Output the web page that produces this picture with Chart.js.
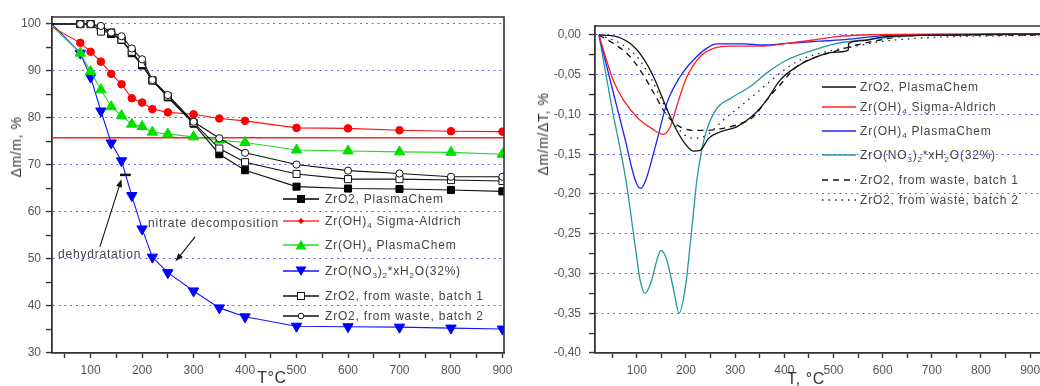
<!DOCTYPE html>
<html>
<head>
<meta charset="utf-8">
<script src="https://cdn.jsdelivr.net/npm/chart.js@4.4.1/dist/chart.umd.min.js"></script>
<style>
  body { margin: 0; width: 1040px; height: 386px; overflow: hidden; background: #fff; position: relative;
         font-family: "Liberation Sans", Arial, sans-serif; color: #444; }
  canvas { position: absolute; top: 0; }
  #tga { left: 0; }
  #dtg { left: 520px; }
  .txt { position: absolute; font-size: 12px; letter-spacing: 0.8px; white-space: nowrap; color: #444; line-height: 14px; }
  .txt sub { font-size: 8px; vertical-align: -3px; line-height: 0; }
  .leg { position: absolute; display: flex; align-items: center; height: 14px; }
  .leg svg { display: block; }
  .title { position: absolute; white-space: nowrap; color: #333; transform: translate(-50%, -50%); letter-spacing: 0.6px; }
  .rot { transform: translate(-50%, -50%) rotate(-90deg); }
</style>
</head>
<body>
<canvas id="tga" width="520" height="386"></canvas>
<canvas id="dtg" width="520" height="386"></canvas>
<div id="overlay"></div>
<script>
// ---- TGA (left): mass loss, %, read at the marker temperatures ----
const tgaT = [25, 80, 100, 120, 140, 160, 180, 200, 220, 250, 300, 350, 400, 500, 600, 700, 800, 900];
const tgaZrO2Plasma = [100, 100, 100, 99.2, 97.9, 96.6, 93.8, 91.2, 88.0, 84.4, 78.8, 72.3, 68.9, 65.4, 65.0, 64.9, 64.7, 64.4];
const tgaZrOHSigma = [99.4, 96.0, 94.1, 92.0, 89.4, 87.2, 84.2, 83.3, 81.9, 81.2, 80.8, 79.9, 79.4, 77.9, 77.8, 77.4, 77.2, 77.1];
const tgaZrOHPlasma = [99.6, 93.8, 89.9, 86.0, 82.4, 80.5, 78.7, 78.2, 77.0, 76.6, 76.0, 75.3, 74.8, 73.2, 73.0, 72.8, 72.7, 72.3];
const tgaNitrate = [100, 93.8, 88.7, 81.5, 74.7, 70.9, 63.5, 56.4, 50.4, 47.1, 43.2, 39.6, 37.7, 35.7, 35.6, 35.5, 35.3, 35.1];
const tgaWaste1 = [100, 100, 100, 98.4, 98.2, 96.7, 94.1, 91.5, 88.0, 84.6, 79.0, 73.5, 70.6, 68.1, 67.0, 67.0, 66.8, 66.6];
const tgaWaste2 = [100, 100, 100, 99.6, 98.2, 97.4, 94.8, 92.5, 88.1, 84.9, 79.2, 75.7, 72.6, 70.1, 68.8, 68.2, 67.5, 67.5];
const tgaRefLevel = 75.8;
const tgaXTicks = [50, 100, 150, 200, 250, 300, 350, 400, 450, 500, 550, 600, 650, 700, 750, 800, 850, 900];
const tgaYTicks = [30, 35, 40, 45, 50, 55, 60, 65, 70, 75, 80, 85, 90, 95, 100];

// ---- DTG (right): each curve traced at its own temperatures ----
const dtgZrO2PlasmaT = [23, 52, 86, 113, 134, 154, 174, 195, 215, 229, 246, 269, 303, 337, 364, 391, 425, 459, 500, 530, 531, 561, 595, 650, 750, 850, 920];
const dtgZrO2PlasmaV = [0, -0.001, -0.0105, -0.029, -0.0525, -0.082, -0.111, -0.134, -0.146, -0.145, -0.130, -0.122, -0.1155, -0.101, -0.082, -0.057, -0.040, -0.029, -0.0218, -0.019, -0.0105, -0.0071, -0.003, -0.001, 0, 0.001, 0.001];
const dtgZrOHSigmaT = [23, 52, 73, 103, 130, 154, 168, 185, 202, 229, 256, 290, 357, 405, 459, 507, 560, 700, 920];
const dtgZrOHSigmaV = [0, -0.057, -0.082, -0.105, -0.1175, -0.125, -0.1155, -0.082, -0.0525, -0.027, -0.0168, -0.0139, -0.0139, -0.0105, -0.0063, -0.002, 0, 0.001, 0.001];
const dtgZrOHPlasmaT = [23, 52, 75, 97, 108, 118, 140, 161, 188, 215, 242, 263, 317, 357, 405, 459, 527, 581, 620, 920];
const dtgZrOHPlasmaV = [0, -0.072, -0.128, -0.183, -0.193, -0.183, -0.135, -0.086, -0.0525, -0.0315, -0.0168, -0.0113, -0.0113, -0.0126, -0.0105, -0.0084, -0.0054, -0.002, 0, 0.001];
const dtgNitrateT = [23, 49, 78, 97, 107, 117, 130, 141, 149, 161, 175, 186, 200, 208, 215, 222, 232, 242, 263, 290, 330, 364, 405, 459, 507, 561, 629, 700, 920];
const dtgNitrateV = [0, -0.090, -0.183, -0.267, -0.309, -0.325, -0.309, -0.283, -0.271, -0.283, -0.321, -0.350, -0.312, -0.267, -0.225, -0.183, -0.145, -0.120, -0.092, -0.080, -0.065, -0.048, -0.0315, -0.019, -0.0105, -0.0063, -0.002, 0, 0.001];
const dtgWaste1T = [23, 52, 86, 113, 137, 161, 188, 215, 242, 269, 303, 337, 364, 391, 425, 459, 500, 547, 595, 636, 700, 920];
const dtgWaste1V = [0, -0.0105, -0.027, -0.050, -0.0756, -0.101, -0.1155, -0.120, -0.120, -0.118, -0.113, -0.103, -0.082, -0.063, -0.040, -0.029, -0.021, -0.0126, -0.0063, -0.002, 0, 0];
const dtgWaste2T = [23, 66, 100, 127, 154, 181, 215, 242, 276, 310, 351, 391, 432, 486, 540, 595, 650, 750, 850, 920];
const dtgWaste2V = [0, -0.0105, -0.027, -0.0525, -0.086, -0.1155, -0.130, -0.126, -0.107, -0.090, -0.069, -0.048, -0.0315, -0.021, -0.0147, -0.0084, -0.005, -0.002, -0.001, 0];
const dtgXTicks = [50, 100, 150, 200, 250, 300, 350, 400, 450, 500, 550, 600, 650, 700, 750, 800, 850, 900];
const dtgYTicks = [-0.40, -0.375, -0.35, -0.325, -0.30, -0.275, -0.25, -0.225, -0.20, -0.175, -0.15, -0.125, -0.10, -0.075, -0.05, -0.025, 0];

// Nombres de series (HTML para los subíndices)
const seriesNames = [
  'ZrO2, PlasmaChem',
  'Zr(OH)<sub>4</sub> Sigma-Aldrich',
  'Zr(OH)<sub>4</sub> PlasmaChem',
  'ZrO(NO<sub>3</sub>)<sub>2</sub>*xH<sub>2</sub>O(32%)',
  'ZrO2, from waste, batch 1',
  'ZrO2, from waste, batch 2'
];

// Anotaciones del TGA, en coordenadas de datos
const tgaArrows = [
  { from: [118, 52.6], to: [160, 67.0] },
  { from: [303, 54.7], to: [265, 49.5] }
];
const tgaMark = { x1: 157, x2: 178, y: 67.9 };

const GRID_BLUE = 'rgba(60, 60, 255, 0.85)';
const AXIS = '#333';
const TICK_FONT = { family: "'Liberation Sans', Arial, sans-serif", size: 12 };

function series(xs, ys) {
  return xs.map((x, i) => ({ x: x, y: ys[i] }));
}
// sin marcador en el primer punto (borde izquierdo)
function skipFirst(r) {
  return ctx => (ctx.dataIndex === 0 ? 0 : r);
}

const framePlugin = {
  id: 'frame',
  afterDraw(chart, args, opts) {
    const { ctx, chartArea: a } = chart;
    ctx.save();
    ctx.strokeStyle = AXIS;
    ctx.lineWidth = 1.6;
    ctx.beginPath();
    ctx.moveTo(a.left, a.top);
    ctx.lineTo(a.right, a.top);
    if (opts.right) ctx.lineTo(a.right, a.bottom);
    ctx.stroke();
    ctx.restore();
  }
};

const notesPlugin = {
  id: 'tgaNotes',
  afterDatasetsDraw(chart) {
    const { ctx, scales: { x, y } } = chart;
    ctx.save();
    ctx.strokeStyle = '#111';
    ctx.fillStyle = '#111';
    ctx.lineWidth = 1.1;
    tgaArrows.forEach(a => {
      const x1 = x.getPixelForValue(a.from[0]), y1 = y.getPixelForValue(a.from[1]);
      const x2 = x.getPixelForValue(a.to[0]), y2 = y.getPixelForValue(a.to[1]);
      const ang = Math.atan2(y2 - y1, x2 - x1);
      const c = Math.cos(ang), s = Math.sin(ang);
      ctx.beginPath();
      ctx.moveTo(x1, y1);
      ctx.lineTo(x2 - 6 * c, y2 - 6 * s);
      ctx.stroke();
      ctx.beginPath();
      ctx.moveTo(x2, y2);
      ctx.lineTo(x2 - 8 * c + 3 * s, y2 - 8 * s - 3 * c);
      ctx.lineTo(x2 - 8 * c - 3 * s, y2 - 8 * s + 3 * c);
      ctx.closePath();
      ctx.fill();
    });
    ctx.lineWidth = 2.5;
    ctx.beginPath();
    ctx.moveTo(x.getPixelForValue(tgaMark.x1), y.getPixelForValue(tgaMark.y));
    ctx.lineTo(x.getPixelForValue(tgaMark.x2), y.getPixelForValue(tgaMark.y));
    ctx.stroke();
    ctx.restore();
  }
};

function xAxis(min, max, ticks) {
  return {
    type: 'linear', min: min, max: max,
    afterBuildTicks: s => { s.ticks = ticks.map(v => ({ value: v })); },
    afterFit: s => { s.height = 33; s.paddingLeft = 0; s.paddingRight = 0; },
    ticks: {
      autoSkip: false, maxRotation: 0, padding: 5, color: '#555', font: TICK_FONT,
      callback: v => (v % 100 === 0 ? String(v) : '')
    },
    grid: { drawOnChartArea: false, tickLength: 5, tickColor: AXIS, tickWidth: 1.4 },
    border: { color: AXIS, width: 1.8 }
  };
}

function yAxis(min, max, ticks, width, isMajor, fmt, pad) {
  return {
    type: 'linear', min: min, max: max,
    afterBuildTicks: s => { s.ticks = ticks.map(v => ({ value: v })); },
    afterFit: s => { s.width = width; s.paddingTop = 0; s.paddingBottom = 0; },
    ticks: {
      autoSkip: false, padding: pad, color: '#555', font: TICK_FONT,
      callback: v => (isMajor(v) ? fmt(v) : '')
    },
    grid: {
      tickLength: 6, tickColor: AXIS, tickWidth: 1.4, lineWidth: 1.1,
      color: ctx => (ctx.tick && isMajor(ctx.tick.value) && ctx.tick.value !== min ? GRID_BLUE : 'transparent')
    },
    border: { color: AXIS, width: 1.8, dash: [1.8, 4] }
  };
}

// ---------- Gráfico izquierdo (TGA) ----------
const tgaDatasets = [
  { data: series(tgaT, tgaWaste2), borderColor: '#111', backgroundColor: '#fff', pointBorderColor: '#111',
    pointStyle: 'circle', pointRadius: skipFirst(3.6) },
  { data: series(tgaT, tgaWaste1), borderColor: '#111', backgroundColor: '#fff', pointBorderColor: '#111',
    pointStyle: 'rect', pointRadius: skipFirst(5) },
  { data: series(tgaT, tgaZrO2Plasma), borderColor: '#111', backgroundColor: '#000', pointBorderColor: '#000',
    pointStyle: 'rect', pointRadius: skipFirst(5) },
  { data: series(tgaT, tgaZrOHSigma), borderColor: '#ff1010', backgroundColor: '#ff0000', pointBorderColor: '#ff0000',
    pointStyle: 'circle', pointRadius: skipFirst(3.8) },
  { data: series(tgaT, tgaZrOHPlasma), borderColor: '#22dd22', backgroundColor: '#00e000', pointBorderColor: '#00e000',
    pointStyle: 'triangle', pointRadius: skipFirst(6) },
  { data: series(tgaT, tgaNitrate), borderColor: '#1515ff', backgroundColor: '#0000ff', pointBorderColor: '#0000ff',
    pointStyle: 'triangle', pointRotation: 180, pointRadius: skipFirst(6) },
  { data: [{ x: 25, y: tgaRefLevel }, { x: 903, y: tgaRefLevel }], borderColor: '#ff2020', pointRadius: 0, borderWidth: 1.3 }
];
tgaDatasets.forEach(d => {
  d.borderWidth = d.borderWidth || 1.1;
  d.pointBorderWidth = 1;
  d.pointHoverRadius = 0;
  d.tension = 0;
});

new Chart(document.getElementById('tga'), {
  type: 'line',
  data: { datasets: tgaDatasets },
  options: {
    responsive: false, animation: false, events: [],
    layout: { padding: { left: 0, top: 17, right: 16, bottom: 0 } },
    scales: {
      x: xAxis(25, 903, tgaXTicks),
      y: yAxis(30, 101.5, tgaYTicks, 52, v => v % 10 === 0, v => String(v), 5)
    },
    plugins: { legend: { display: false }, tooltip: { enabled: false }, frame: { right: true } }
  },
  plugins: [framePlugin, notesPlugin]
});

// ---------- Gráfico derecho (DTG) ----------
const dtgDatasets = [
  { data: series(dtgZrO2PlasmaT, dtgZrO2PlasmaV), borderColor: '#111' },
  { data: series(dtgZrOHSigmaT, dtgZrOHSigmaV), borderColor: '#ff2020' },
  { data: series(dtgZrOHPlasmaT, dtgZrOHPlasmaV), borderColor: '#2020ff' },
  { data: series(dtgNitrateT, dtgNitrateV), borderColor: '#22999a' },
  { data: series(dtgWaste1T, dtgWaste1V), borderColor: '#111', borderDash: [6, 5] },
  { data: series(dtgWaste2T, dtgWaste2V), borderColor: '#222', borderDash: [1.5, 5] }
];
dtgDatasets.forEach(d => {
  d.borderWidth = 1.3;
  d.pointRadius = 0;
  d.cubicInterpolationMode = 'monotone';
});

const commaFmt = v => {
  const r = Math.round(v * 100) / 100;
  return (r === 0 ? 0 : r).toFixed(2).replace('.', ',');
};

new Chart(document.getElementById('dtg'), {
  type: 'line',
  data: { datasets: dtgDatasets },
  options: {
    responsive: false, animation: false, events: [],
    layout: { padding: { left: 0, top: 26, right: 0, bottom: 0 } },
    scales: {
      x: xAxis(15, 920, dtgXTicks),
      y: yAxis(-0.40, 0.0113, dtgYTicks, 75, v => Math.round(v * 1000) % 50 === 0, commaFmt, 8)
    },
    plugins: { legend: { display: false }, tooltip: { enabled: false }, frame: { right: false } }
  },
  plugins: [framePlugin]
});

// ---------- Leyendas y textos (HTML) ----------
function legendSymbol(s, w) {
  const m = w / 2;
  const dash = s.dash ? ` stroke-dasharray="${s.dash}"` : '';
  let mark = '';
  if (s.marker === 'rect') mark = `<rect x="${m - 3.5}" y="3.5" width="7" height="7" fill="${s.fill}" stroke="${s.color}" stroke-width="1"/>`;
  if (s.marker === 'diamond') mark = `<polygon points="${m},4 ${m + 3},7 ${m},10 ${m - 3},7" fill="${s.color}"/>`;
  if (s.marker === 'up') mark = `<polygon points="${m},2 ${m + 5.5},11.5 ${m - 5.5},11.5" fill="${s.color}"/>`;
  if (s.marker === 'down') mark = `<polygon points="${m - 5.5},2.5 ${m + 5.5},2.5 ${m},12" fill="${s.color}"/>`;
  if (s.marker === 'circle') mark = `<circle cx="${m}" cy="7" r="2.8" fill="#fff" stroke="${s.color}" stroke-width="1"/>`;
  return `<svg width="${w}" height="14"><line x1="0" y1="7" x2="${w}" y2="7" stroke="${s.line || s.color}" stroke-width="1.3"${dash}/>${mark}</svg>`;
}

const tgaLegend = [
  { color: '#000', fill: '#000', marker: 'rect' },
  { color: '#ff0000', line: '#ff3030', marker: 'diamond' },
  { color: '#00e000', line: '#22dd22', marker: 'up' },
  { color: '#0000ff', line: '#1515ff', marker: 'down' },
  { color: '#111', fill: '#fff', marker: 'rect' },
  { color: '#111', fill: '#fff', marker: 'circle' }
];
const dtgLegend = [
  { color: '#111' }, { color: '#ff2020' }, { color: '#2020ff' }, { color: '#22999a' },
  { color: '#111', dash: '6 5' }, { color: '#222', dash: '1.5 5' }
];
const tgaLegendY = [199, 221, 245, 271, 296, 316];
const dtgLegendY = [87, 107, 131, 155, 180, 200];

let html = '';
seriesNames.forEach((name, i) => {
  html += `<div class="leg" style="left:283px;top:${tgaLegendY[i] - 7}px">${legendSymbol(tgaLegend[i], 36)}` +
          `<span class="txt" style="position:static;margin-left:6px">${name}</span></div>`;
  html += `<div class="leg" style="left:822px;top:${dtgLegendY[i] - 7}px">${legendSymbol(dtgLegend[i], 34)}` +
          `<span class="txt" style="position:static;margin-left:4px">${name}</span></div>`;
});
html += '<div class="txt" style="left:148px;top:216px">nitrate decomposition</div>';
html += '<div class="txt" style="left:58px;top:247px">dehydratation</div>';
html += '<div class="title rot" style="left:16px;top:147px;font-size:14px">Δm/m, %</div>';
html += '<div class="title rot" style="left:543px;top:134px;font-size:14px">Δm/m/ΔT, %</div>';
html += '<div class="title" style="left:272px;top:378px;font-size:16px">T°C</div>';
html += '<div class="title" style="left:806px;top:379px;font-size:16px">T, °C</div>';
document.getElementById('overlay').innerHTML = html;
</script>
</body>
</html>
